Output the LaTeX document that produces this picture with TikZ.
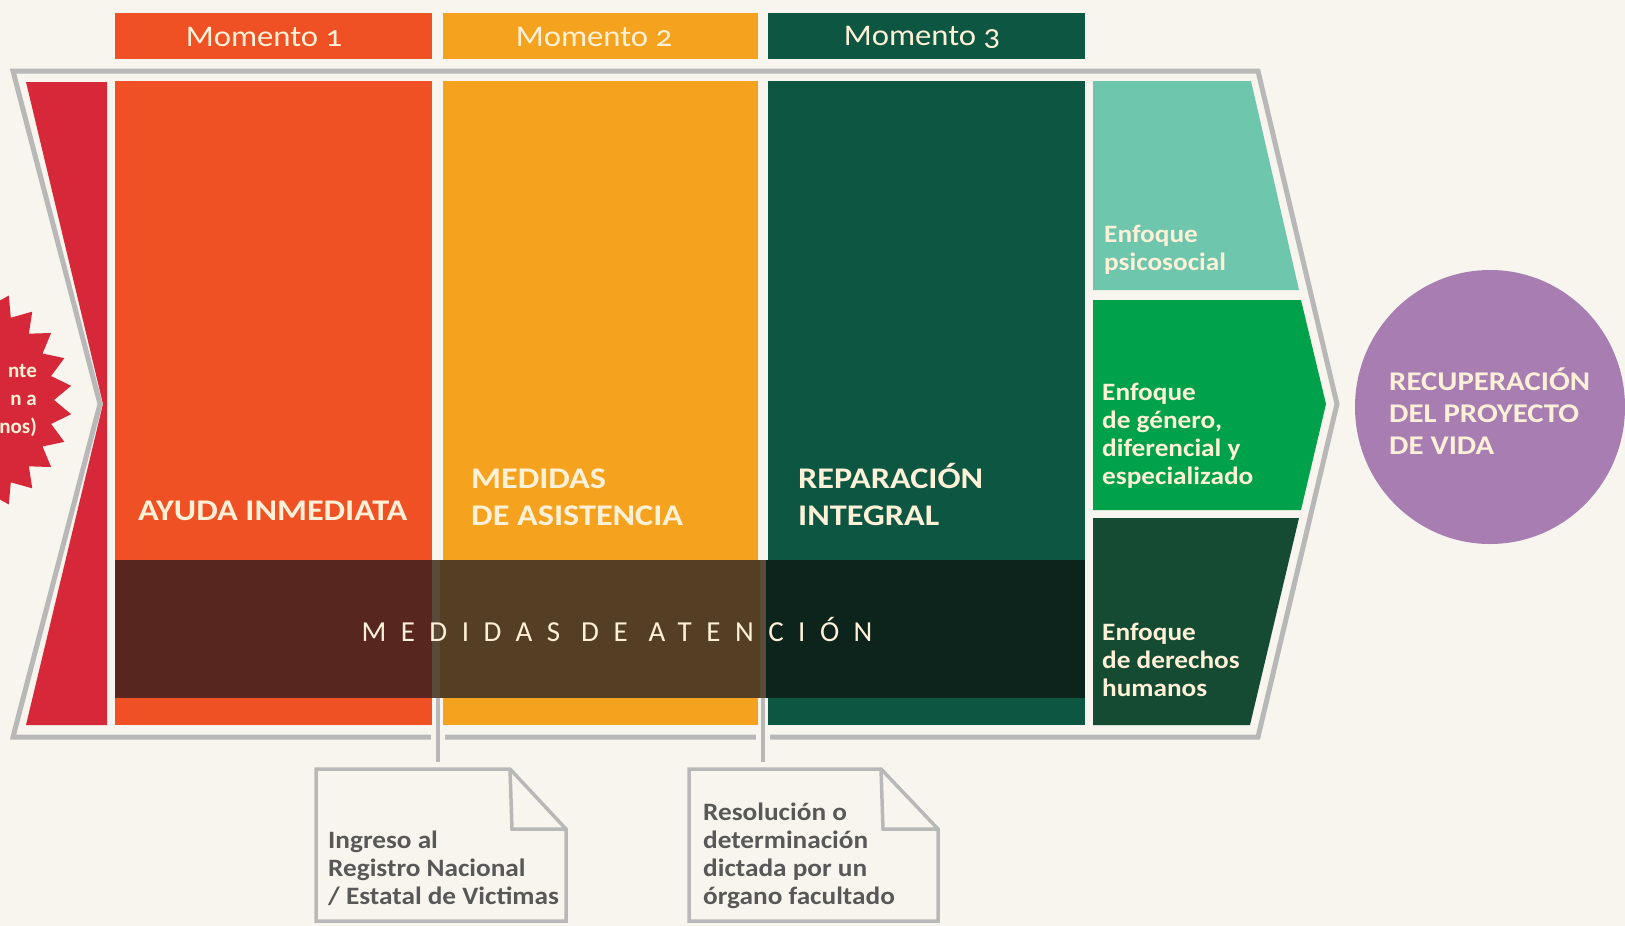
\documentclass[tikz,border=0pt]{standalone}
\usepackage{fontspec}
\usetikzlibrary{shapes.geometric}
\setmainfont{Carlito}[Numbers=OldStyle]
\newfontfamily\widefont{Carlito}[FakeStretch=1.14, Numbers=OldStyle]
\newfontfamily\midfont{Carlito}[FakeStretch=1.09, Numbers=OldStyle]
\newfontfamily\spacedfont{Carlito}[LetterSpace=50]
\definecolor{bgc}{HTML}{F7F5EE}
\definecolor{outl}{HTML}{B8B8B8}
\definecolor{redc}{HTML}{D62839}
\definecolor{orangec}{HTML}{EF5124}
\definecolor{yellowc}{HTML}{F5A31F}
\definecolor{dgreen}{HTML}{0D5641}
\definecolor{tealc}{HTML}{6EC6AD}
\definecolor{greenc}{HTML}{00A14B}
\definecolor{dgreentwo}{HTML}{164B33}
\definecolor{purplec}{HTML}{A77DB2}
\definecolor{ovlone}{HTML}{56261F}
\definecolor{ovltwo}{HTML}{553F24}
\definecolor{ovlthree}{HTML}{0C241C}
\definecolor{ovlgap}{HTML}{5A4A3A}
\definecolor{lighttxt}{HTML}{FFF0D8}
\definecolor{notetxt}{HTML}{585858}
\begin{document}
\begin{tikzpicture}[x=1pt,y=-1pt,
  hdr/.style={font=\midfont\fontsize{30}{34}\selectfont, text=lighttxt, anchor=center},
  coltxt/.style={font=\widefont\bfseries\fontsize{30}{37}\selectfont, text=lighttxt, align=left, anchor=west, inner sep=0pt},
  enftxt/.style={font=\midfont\bfseries\fontsize{25}{28}\selectfont, text=lighttxt, align=left, anchor=west, inner sep=0pt},
  notetext/.style={font=\midfont\bfseries\fontsize{25}{28}\selectfont, text=notetxt, align=left, anchor=west, inner sep=0pt},
  notebox/.style={draw=outl, line width=3.5pt, fill=bgc, line join=miter},
  conn/.style={draw=outl, line width=4pt},
  connbg/.style={draw=bgc, line width=14pt}
]
\useasboundingbox (0,0) rectangle (1625,926);
\fill[bgc] (0,0) rectangle (1625,926);

% starburst (cut by left edge)
\node[star, star points=26, star point ratio=1.18, minimum size=236pt, inner sep=0pt, fill=redc] (burstshape) at (-46,400) {};
\node[font=\bfseries\fontsize{21}{28}\selectfont, text=lighttxt, align=right, anchor=east, inner sep=0pt] (burst) at (37,400) {nte\\n a\\nos)};

% outer chevron outline
\draw[outl, line width=5pt, line join=miter] (13,71) -- (1258,71) -- (1337,404) -- (1258,737) -- (13,737) -- (100,404) -- cycle;

% red band
\fill[redc] (26,82) -- (107,82) -- (107,725) -- (26,725) -- (103,404) -- cycle;

% headers
\fill[orangec] (115,13) rectangle (432,59);
\fill[yellowc] (443,13) rectangle (758,59);
\fill[dgreen] (768,13) rectangle (1085,59);
\node[hdr] (h1) at (264,37) {Momento 1};
\node[hdr] (h2) at (594,37) {Momento 2};
\node[hdr] (h3) at (922,37) {Momento 3};

% columns
\fill[orangec] (115,81) rectangle (432,725);
\fill[yellowc] (443,81) rectangle (758,725);
\fill[dgreen] (768,81) rectangle (1085,725);

% right approach column
\fill[tealc] (1093,81) -- (1251,81) -- (1299,290) -- (1093,290) -- cycle;
\fill[greenc] (1093,300) -- (1301,300) -- (1326,404) -- (1301,510) -- (1093,510) -- cycle;
\fill[dgreentwo] (1093,518) -- (1299,518) -- (1250,725) -- (1093,725) -- cycle;

% medidas de atencion overlay
\fill[ovlgap] (115,560) rectangle (1085,698);
\fill[ovlone] (115,560) rectangle (432,698);
\fill[ovltwo] (440,560) rectangle (760,698);
\fill[ovlthree] (766,560) rectangle (1085,698);
\node[font=\spacedfont\fontsize{29}{32}\selectfont, text=lighttxt] (atn) at (617,629) {MEDIDAS DE ATENCIÓN};

% column labels
\node[coltxt] (ayuda) at (138,511) {AYUDA INMEDIATA};
\node[coltxt] (asist) at (471,497) {MEDIDAS\\DE ASISTENCIA};
\node[coltxt] (repar) at (798,494) {REPARACIÓN\\INTEGRAL};

% approach labels
\node[enftxt] (psico) at (1104,250) {Enfoque\\psicosocial};
\node[enftxt] (genero) at (1102,436) {Enfoque\\de género,\\diferencial y\\especializado};
\node[enftxt] (ddhh) at (1102,660) {Enfoque\\de derechos\\humanos};

% goal circle
\fill[purplec] (1490,407) ellipse [x radius=135, y radius=137];
\node[font=\widefont\bfseries\fontsize{27}{32}\selectfont, text=lighttxt, align=left, anchor=west, inner sep=0pt] (goal) at (1389,411) {RECUPERACIÓN\\DEL PROYECTO\\DE VIDA};

% connectors to notes
\coordinate (c1a) at (437.5,698);
\coordinate (c1b) at (437.5,762);
\coordinate (c2a) at (763,698);
\coordinate (c2b) at (763,762);
\draw[connbg] (437.5,729) -- (c1b);
\draw[connbg] (763,729) -- (c2b);
\draw[conn] (c1a) -- (c1b);
\draw[conn] (c2a) -- (c2b);

% notes
\draw[notebox] (316,769) -- (510,769) -- (566,829) -- (566,921) -- (316,921) -- cycle;
\draw[outl, line width=3.5pt] (510,769) -- (512,829) -- (566,829);
\draw[notebox] (689,769) -- (881,769) -- (938,829) -- (938,921) -- (689,921) -- cycle;
\draw[outl, line width=3.5pt] (881,769) -- (883,829) -- (938,829);
\node[notetext] (n1) at (328,868) {Ingreso al\\Registro Nacional\\/ Estatal de Victimas};
\node[notetext] (n2) at (703,856) {Resolución o\\determinación\\dictada por un\\órgano facultado};
\end{tikzpicture}
\end{document}
